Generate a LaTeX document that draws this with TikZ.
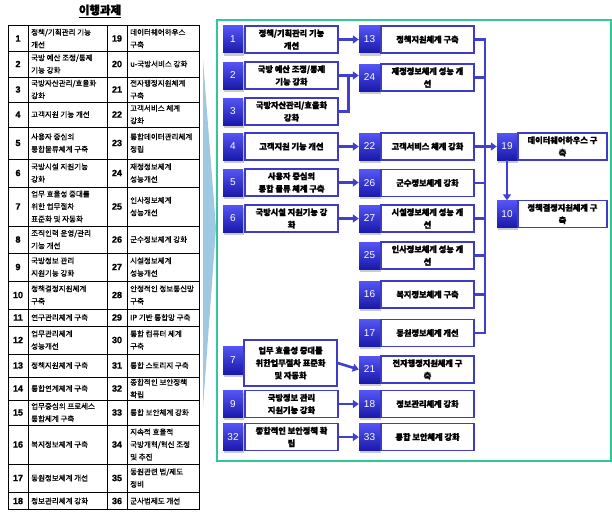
\documentclass[tikz,border=0pt]{standalone}
\usepackage{fontspec}
\setmainfont{Noto Sans CJK KR}[AutoFakeBold=2.5]
\newfontfamily\tabfam{Noto Sans CJK KR}[FakeBold=0.8]
\newfontfamily\heavyfam{Noto Sans CJK KR}[BoldFeatures={FakeBold=1.5}]
\newfontfamily\numfam{Liberation Sans}
\newfontfamily\tnumfam{Liberation Sans}[FakeBold=1.5]
\usetikzlibrary{shadows,arrows.meta,calc}
\definecolor{boxblue}{RGB}{60,60,200}
\definecolor{lineblue}{RGB}{64,64,205}
\definecolor{sqtop}{RGB}{85,85,245}
\definecolor{sqbot}{RGB}{25,25,170}
\definecolor{framegreen}{RGB}{50,200,150}
\definecolor{wedgeblue}{RGB}{160,200,226}
\newcommand\CellFont{\tabfam\fontsize{7.5}{12.5}\selectfont}
\newcommand\CellNum{\tnumfam\bfseries\fontsize{9}{9}\selectfont}
\newcommand\BoxFont{\heavyfam\bfseries\fontsize{8.2}{12.5}\selectfont}
\newcommand\SqFont{\numfam\fontsize{10}{10}\selectfont}
\newcommand\tabrow[5]{%
  \node[cnum] (tn#2) at (18,#1) {#2};
  \node[cell] (tt#2) at (31,#1) {#3};
  \node[cnum] (tn#4) at (117,#1) {#4};
  \node[cell] (tt#4) at (130,#1) {#5};}
\newcommand\LeftItem[3]{%
  \node[numsq] (n#1) at (233,#2) {#1};
  \node[tbox] (b#1) at (291.5,#2) {#3};}
\newcommand\MidItem[3]{%
  \node[numsq, minimum width=21pt] (n#1) at (369.5,#2) {#1};
  \node[tbox] (b#1) at (427.5,#2) {#3};}
\newcommand\RightItem[3]{%
  \node[numsq] (n#1) at (507,#2) {#1};
  \node[tbox, minimum width=89pt] (b#1) at (562.5,#2) {#3};}
\begin{document}
\begin{tikzpicture}[x=1pt,y=-1pt,
  cell/.style={anchor=west, align=left, inner sep=0pt, font=\CellFont},
  cnum/.style={inner sep=0pt, font=\CellNum},
  numsq/.style={minimum width=20pt, minimum height=27pt, inner sep=0pt,
    top color=sqtop, bottom color=sqbot, text=white, font=\SqFont,
    drop shadow={shadow xshift=0.5pt, shadow yshift=-2.5pt, fill=black!40}},
  tbox/.style={draw=boxblue, line width=1.3pt, fill=white, minimum width=93pt,
    minimum height=27pt, inner sep=1pt, align=center, font=\BoxFont},
  ln/.style={draw=lineblue, line width=2.6pt},
  arr/.style={ln, -{Triangle[length=6pt,width=8pt]}}]
\useasboundingbox (0,0) rectangle (612,511);
\fill[white] (0,0) rectangle (612,511);

% title
\node[font=\heavyfam\bfseries\fontsize{11.5}{11.5}\selectfont] (title) at (100,11) {\underline{이행과제}};

% table grid
\draw[line width=1pt] (8,26) rectangle (199,509.5);
\foreach \yy in {51,77,102,127,159,187,226,253,281,309,326,354,377,400,425,464,492}
  \draw[line width=0.8pt] (8,\yy) -- (199,\yy);
\foreach \xx in {28,107,127}
  \draw[line width=0.8pt] (\xx,26) -- (\xx,509.5);

\tabrow{38.5}{1}{정책/기획관리 기능\\개선}{19}{데이터웨어하우스\\구축}
\tabrow{64}{2}{국방 예산 조정/통제\\기능 강화}{20}{u-국방서비스 강화}
\tabrow{89.5}{3}{국방자산관리/효율화\\강화}{21}{전자행정지원체계\\구축}
\tabrow{114.5}{4}{고객지원 기능 개선}{22}{고객서비스 체계\\강화}
\tabrow{143}{5}{사용자 중심의\\통합물류체계 구축}{23}{통합데이터관리체계\\정립}
\tabrow{173}{6}{국방시설 지원기능\\강화}{24}{재정정보체계\\성능개선}
\tabrow{206.5}{7}{업무 효율성 증대를\\위한 업무절차\\표준화 및 자동화}{25}{인사정보체계\\성능개선}
\tabrow{239.5}{8}{조직인력 운영/관리\\기능 개선}{26}{군수정보체계 강화}
\tabrow{267}{9}{국방정보 관리\\지원기능 강화}{27}{시설정보체계\\성능개선}
\tabrow{295}{10}{정책결정지원체계\\구축}{28}{안정적인 정보통신망\\구축}
\tabrow{317.5}{11}{연구관리체계 구축}{29}{IP 기반 통합망 구축}
\tabrow{340}{12}{업무관리체계\\성능개선}{30}{통합 컴퓨터 체계\\구축}
\tabrow{365.5}{13}{정책지원체계 구축}{31}{통합 스토리지 구축}
\tabrow{388.5}{14}{통합연계체계 구축}{32}{종합적인 보안정책\\확립}
\tabrow{412.5}{15}{업무중심의 프로세스\\통합체계 구축}{33}{통합 보안체계 강화}
\tabrow{444.5}{16}{복지정보체계 구축}{34}{지속적 효율적\\국방개혁/혁신 조정\\및 추진}
\tabrow{478}{17}{동원정보체계 개선}{35}{동원관련 법/제도\\정비}
\tabrow{501}{18}{정보관리체계 강화}{36}{군사법제도 개선}

% wedge and frame
\fill[wedgeblue] (203,60) -- (216,228) -- (203,407) -- cycle;
\draw[framegreen, line width=1.5pt] (217,20) rectangle (611,461);

% left column
\LeftItem{1}{39.5}{정책/기획관리 기능\\개선}
\LeftItem{2}{75.5}{국방 예산 조정/통제\\기능 강화}
\LeftItem{3}{111.5}{국방자산관리/효율화\\강화}
\LeftItem{4}{146.5}{고객지원 기능 개선}
\LeftItem{5}{182.5}{사용자 중심의\\통합 물류 체계 구축}
\LeftItem{6}{218.5}{국방시설 지원기능 강\\화}
\node[numsq, minimum height=28pt] (n7) at (233,360) {7};
\node[tbox, minimum height=46pt] (b7) at (290.5,363) {업무 효율성 증대를\\위한업무절차 표준화\\및 자동화};
\LeftItem{9}{404}{국방정보 관리\\지원기능 강화}
\LeftItem{32}{437}{종합적인 보안정책 확\\립}

% middle column
\MidItem{13}{39.5}{정책지원체계 구축}
\MidItem{24}{77.5}{재정정보체계 성능 개\\선}
\MidItem{22}{146.5}{고객서비스 체계 강화}
\MidItem{26}{183}{군수정보체계 강화}
\MidItem{27}{218.5}{시설정보체계 성능 개\\선}
\MidItem{25}{255.5}{인사정보체계 성능 개\\선}
\MidItem{16}{294.5}{복지정보체계 구축}
\MidItem{17}{333}{동원정보체계 개선}
\MidItem{21}{369.5}{전자행정지원체계 구\\축}
\MidItem{18}{404}{정보관리체계 강화}
\MidItem{33}{437}{통합 보안체계 강화}

% right column
\RightItem{19}{146.5}{데이터웨어하우스 구\\축}
\RightItem{10}{214}{정책결정지원체계 구\\축}

% connectors left -> middle
\draw[arr] (b1.east) -- (b1.east -| n13.west);
\draw[arr] (b2.east) -- (b2.east -| n24.west);
\draw[ln] (b3.east) -| ($(b2.east)!0.5!(b2.east -| n24.west)$);
\draw[arr] (b4.east) -- (b4.east -| n22.west);
\draw[arr] (b5.east) -- (b5.east -| n26.west);
\draw[arr] (b6.east) -- (b6.east -| n27.west);
\draw[arr] (b7.east) -- (n21.west);
\draw[arr] (b9.east) -- (b9.east -| n18.west);
\draw[arr] (b32.east) -- (b32.east -| n33.west);

% bus
\coordinate (bus) at (485,0);
\draw[ln] (b13.east) -- (b13.east -| bus) -- (b17.east -| bus) -- (b17.east);
\foreach \k in {24,26,27,25,16}
  \draw[ln] (b\k.east) -- (b\k.east -| bus);
\draw[arr] (b22.east) -- (n19.west);
\draw[arr] (n19.south) -- (n10.north);
\end{tikzpicture}
\end{document}
